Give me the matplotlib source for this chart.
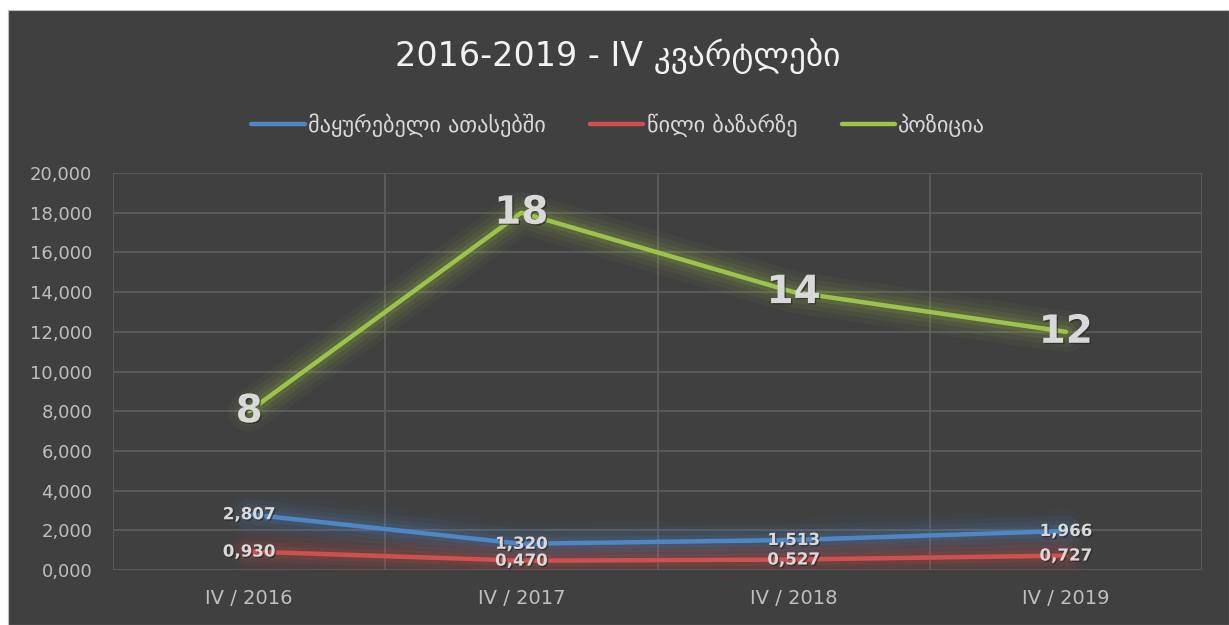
import matplotlib.pyplot as plt
from matplotlib.patches import Rectangle
from matplotlib import patheffects as pe

# data
quarters = ["IV / 2016", "IV / 2017", "IV / 2018", "IV / 2019"]
viewers = [2.807, 1.320, 1.513, 1.966]      # მაყურებელი ათასებში
share = [0.930, 0.470, 0.527, 0.727]        # წილი ბაზარზე
position = [8, 18, 14, 12]                  # პოზიცია

series_names = ["მაყურებელი ათასებში", "წილი ბაზარზე", "პოზიცია"]
title = "2016-2019 - IV კვარტლები"

BG = "#404040"
GRID = "#5c5c5c"
TXT = "#d9d9d9"
colors = ["#4f86c6", "#d0504d", "#9cc44a"]


def fmt(v):
    return f"{v:.3f}".replace(".", ",")


fig = plt.figure(figsize=(12.29, 6.25), dpi=100, facecolor="white")
fig.patches.append(Rectangle((8 / 1229, 0), 1 - 8 / 1229, 1 - 10 / 625,
                             transform=fig.transFigure, facecolor=BG,
                             edgecolor="#bfbfbf", lw=0.8, zorder=-10))

ax = fig.add_axes([113 / 1229, 1 - 570 / 625, (1202 - 113) / 1229, (570 - 173) / 625])
ax.set_facecolor(BG)

x = list(range(len(quarters)))
handles = []
for vals, col, name in zip([viewers, share, position], colors, series_names):
    # soft glow under the line
    for w, a in [(30, 0.05), (22, 0.07), (15, 0.09), (9, 0.12)]:
        ax.plot(x, vals, color=col, lw=w, alpha=a, solid_capstyle="round",
                solid_joinstyle="round", zorder=2)
    h, = ax.plot(x, vals, color=col, lw=3.2, solid_capstyle="round",
                 solid_joinstyle="round", zorder=3, label=name)
    handles.append(h)

shadow = [pe.withSimplePatchShadow(offset=(1, -1), shadow_rgbFace="#222222", alpha=0.6)]
for xi, v in zip(x, viewers):
    ax.text(xi, v, fmt(v), ha="center", va="center", color=TXT,
            fontsize=12, fontweight="bold", zorder=5, path_effects=shadow)
for xi, v in zip(x, share):
    ax.text(xi, v, fmt(v), ha="center", va="center", color=TXT,
            fontsize=12, fontweight="bold", zorder=5, path_effects=shadow)
for xi, v in zip(x, position):
    ax.text(xi, v, str(v), ha="center", va="center", color=TXT,
            fontsize=28, fontweight="bold", zorder=5, path_effects=shadow)

ax.set_xlim(-0.5, len(quarters) - 0.5)
ax.set_ylim(0, 20)
ax.set_yticks(range(0, 21, 2))
ax.set_yticklabels([fmt(v) for v in range(0, 21, 2)])
ax.set_xticks(x)
ax.set_xticklabels(quarters)
ax.set_xticks([i - 0.5 for i in range(len(quarters) + 1)], minor=True)
ax.tick_params(axis="both", which="both", length=0, colors="#bfbfbf")
ax.tick_params(axis="y", pad=15, labelsize=13)
ax.tick_params(axis="x", pad=14, labelsize=14)
ax.grid(True, axis="y", which="major", color=GRID, lw=1.3)
ax.grid(True, axis="x", which="minor", color=GRID, lw=1.3)
ax.set_axisbelow(True)
for s in ax.spines.values():
    s.set_visible(False)

fig.text(0.503, 1 - 56 / 625, title, ha="center", va="center",
         color="#f2f2f2", fontsize=24)
fig.legend(handles=handles, loc="center", bbox_to_anchor=(0.503, 1 - 125 / 625),
           ncol=3, frameon=False, fontsize=16, labelcolor=TXT,
           handlelength=2.4, handletextpad=0.15, columnspacing=2.0)

fig.savefig("out.png", dpi=100, facecolor=fig.get_facecolor())
